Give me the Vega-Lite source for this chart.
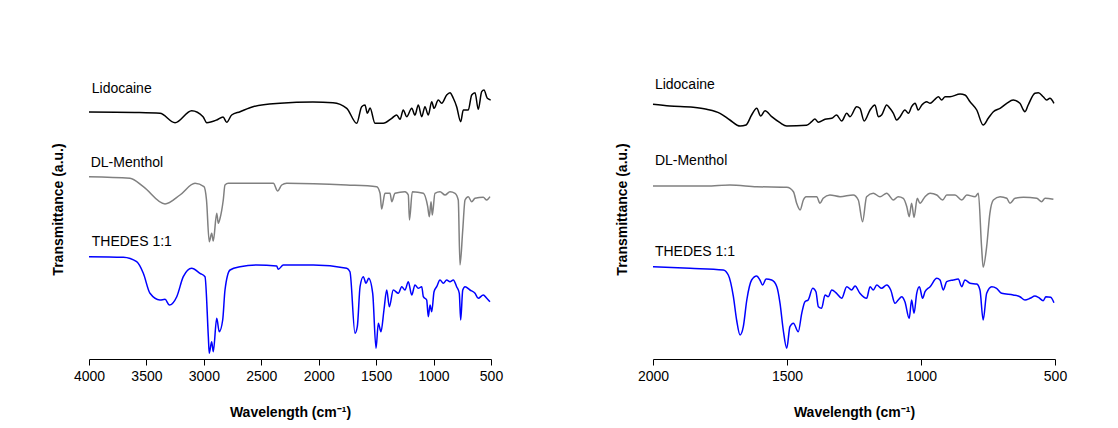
{
  "$schema": "https://vega.github.io/schema/vega-lite/v6.json",
  "background": "white",
  "padding": {"left": 51, "top": 59, "right": 5, "bottom": 5},
  "config": {
    "font": "Liberation Sans",
    "view": {"stroke": null},
    "concat": {"spacing": 112},
    "axis": {"grid": false, "labelFontSize": 14, "titleFontSize": 14, "titleFontWeight": "bold", "labelColor": "#000", "titleColor": "#000", "domainColor": "#000", "tickColor": "#000", "labelFlush": false}
  },
  "resolve": {"scale": {"x": "independent", "y": "independent"}},
  "datasets": {
    "spectra": [
      {"p":"L","s":"Lidocaine","w":4000,"t":247},{"p":"L","s":"Lidocaine","w":3600,"t":246.5},{"p":"L","s":"Lidocaine","w":3382,"t":245.7},{"p":"L","s":"Lidocaine","w":3251,"t":236.3},{"p":"L","s":"Lidocaine","w":3106,"t":248.3},{"p":"L","s":"Lidocaine","w":3007,"t":242.3},{"p":"L","s":"Lidocaine","w":2975,"t":236.3},{"p":"L","s":"Lidocaine","w":2888,"t":239},{"p":"L","s":"Lidocaine","w":2833,"t":242},{"p":"L","s":"Lidocaine","w":2801,"t":236.7},{"p":"L","s":"Lidocaine","w":2758,"t":244},{"p":"L","s":"Lidocaine","w":2685,"t":247.3},{"p":"L","s":"Lidocaine","w":2572,"t":252.3},{"p":"L","s":"Lidocaine","w":2337,"t":255.7},{"p":"L","s":"Lidocaine","w":2050,"t":257},{"p":"L","s":"Lidocaine","w":1876,"t":256.3},{"p":"L","s":"Lidocaine","w":1756,"t":250.7},{"p":"L","s":"Lidocaine","w":1669,"t":235.7},{"p":"L","s":"Lidocaine","w":1626,"t":252.3},{"p":"L","s":"Lidocaine","w":1597,"t":254},{"p":"L","s":"Lidocaine","w":1577,"t":245.7},{"p":"L","s":"Lidocaine","w":1553,"t":251},{"p":"L","s":"Lidocaine","w":1510,"t":235.7},{"p":"L","s":"Lidocaine","w":1438,"t":235.7},{"p":"L","s":"Lidocaine","w":1364,"t":240.7},{"p":"L","s":"Lidocaine","w":1321,"t":244},{"p":"L","s":"Lidocaine","w":1292,"t":239.7},{"p":"L","s":"Lidocaine","w":1264,"t":249},{"p":"L","s":"Lidocaine","w":1234,"t":242.3},{"p":"L","s":"Lidocaine","w":1190,"t":250.7},{"p":"L","s":"Lidocaine","w":1162,"t":244},{"p":"L","s":"Lidocaine","w":1133,"t":254},{"p":"L","s":"Lidocaine","w":1103,"t":242.3},{"p":"L","s":"Lidocaine","w":1075,"t":252.3},{"p":"L","s":"Lidocaine","w":1046,"t":244},{"p":"L","s":"Lidocaine","w":1016,"t":257.3},{"p":"L","s":"Lidocaine","w":996,"t":250.7},{"p":"L","s":"Lidocaine","w":959,"t":259},{"p":"L","s":"Lidocaine","w":929,"t":255.7},{"p":"L","s":"Lidocaine","w":886,"t":264},{"p":"L","s":"Lidocaine","w":857,"t":266.3},{"p":"L","s":"Lidocaine","w":828,"t":260.7},{"p":"L","s":"Lidocaine","w":799,"t":252.3},{"p":"L","s":"Lidocaine","w":764,"t":237.3},{"p":"L","s":"Lidocaine","w":741,"t":249},{"p":"L","s":"Lidocaine","w":698,"t":249},{"p":"L","s":"Lidocaine","w":668,"t":264},{"p":"L","s":"Lidocaine","w":639,"t":266.3},{"p":"L","s":"Lidocaine","w":611,"t":249.7},{"p":"L","s":"Lidocaine","w":581,"t":267.3},{"p":"L","s":"Lidocaine","w":561,"t":269},{"p":"L","s":"Lidocaine","w":532,"t":260.7},{"p":"L","s":"Lidocaine","w":503,"t":259},
      {"p":"L","s":"DL-Menthol","w":4000,"t":182.3},{"p":"L","s":"DL-Menthol","w":3643,"t":180.7},{"p":"L","s":"DL-Menthol","w":3527,"t":172.3},{"p":"L","s":"DL-Menthol","w":3338,"t":155},{"p":"L","s":"DL-Menthol","w":3208,"t":164},{"p":"L","s":"DL-Menthol","w":3077,"t":175.7},{"p":"L","s":"DL-Menthol","w":2999,"t":172.3},{"p":"L","s":"DL-Menthol","w":2977,"t":159},{"p":"L","s":"DL-Menthol","w":2953,"t":117.3},{"p":"L","s":"DL-Menthol","w":2932,"t":125.7},{"p":"L","s":"DL-Menthol","w":2918,"t":118},{"p":"L","s":"DL-Menthol","w":2888,"t":145.7},{"p":"L","s":"DL-Menthol","w":2874,"t":135.7},{"p":"L","s":"DL-Menthol","w":2859,"t":140.7},{"p":"L","s":"DL-Menthol","w":2831,"t":159},{"p":"L","s":"DL-Menthol","w":2816,"t":174},{"p":"L","s":"DL-Menthol","w":2787,"t":175.7},{"p":"L","s":"DL-Menthol","w":2395,"t":175.7},{"p":"L","s":"DL-Menthol","w":2357,"t":168},{"p":"L","s":"DL-Menthol","w":2322,"t":174},{"p":"L","s":"DL-Menthol","w":2279,"t":175.7},{"p":"L","s":"DL-Menthol","w":1756,"t":174},{"p":"L","s":"DL-Menthol","w":1495,"t":172.3},{"p":"L","s":"DL-Menthol","w":1466,"t":165.7},{"p":"L","s":"DL-Menthol","w":1452,"t":150},{"p":"L","s":"DL-Menthol","w":1423,"t":165.7},{"p":"L","s":"DL-Menthol","w":1379,"t":165.7},{"p":"L","s":"DL-Menthol","w":1364,"t":157.3},{"p":"L","s":"DL-Menthol","w":1336,"t":165.7},{"p":"L","s":"DL-Menthol","w":1249,"t":167.3},{"p":"L","s":"DL-Menthol","w":1220,"t":164},{"p":"L","s":"DL-Menthol","w":1210,"t":139},{"p":"L","s":"DL-Menthol","w":1185,"t":167.3},{"p":"L","s":"DL-Menthol","w":1089,"t":165.7},{"p":"L","s":"DL-Menthol","w":1051,"t":152.3},{"p":"L","s":"DL-Menthol","w":1037,"t":142.3},{"p":"L","s":"DL-Menthol","w":1022,"t":157.3},{"p":"L","s":"DL-Menthol","w":1011,"t":144},{"p":"L","s":"DL-Menthol","w":988,"t":165.7},{"p":"L","s":"DL-Menthol","w":944,"t":167.3},{"p":"L","s":"DL-Menthol","w":900,"t":164},{"p":"L","s":"DL-Menthol","w":857,"t":167.3},{"p":"L","s":"DL-Menthol","w":813,"t":165.7},{"p":"L","s":"DL-Menthol","w":785,"t":159},{"p":"L","s":"DL-Menthol","w":770,"t":94},{"p":"L","s":"DL-Menthol","w":746,"t":129},{"p":"L","s":"DL-Menthol","w":726,"t":159},{"p":"L","s":"DL-Menthol","w":698,"t":162.3},{"p":"L","s":"DL-Menthol","w":668,"t":157.3},{"p":"L","s":"DL-Menthol","w":639,"t":160.7},{"p":"L","s":"DL-Menthol","w":567,"t":161.7},{"p":"L","s":"DL-Menthol","w":537,"t":159},{"p":"L","s":"DL-Menthol","w":509,"t":162.3},
      {"p":"L","s":"THEDES 1:1","w":4000,"t":102.3},{"p":"L","s":"THEDES 1:1","w":3701,"t":101.7},{"p":"L","s":"THEDES 1:1","w":3585,"t":97.3},{"p":"L","s":"THEDES 1:1","w":3527,"t":85.7},{"p":"L","s":"THEDES 1:1","w":3469,"t":65.7},{"p":"L","s":"THEDES 1:1","w":3382,"t":59},{"p":"L","s":"THEDES 1:1","w":3338,"t":59.7},{"p":"L","s":"THEDES 1:1","w":3301,"t":54},{"p":"L","s":"THEDES 1:1","w":3236,"t":62.3},{"p":"L","s":"THEDES 1:1","w":3179,"t":82.3},{"p":"L","s":"THEDES 1:1","w":3106,"t":90.7},{"p":"L","s":"THEDES 1:1","w":3034,"t":85.7},{"p":"L","s":"THEDES 1:1","w":2990,"t":82.3},{"p":"L","s":"THEDES 1:1","w":2961,"t":22.3},{"p":"L","s":"THEDES 1:1","w":2953,"t":5.7},{"p":"L","s":"THEDES 1:1","w":2932,"t":17.3},{"p":"L","s":"THEDES 1:1","w":2918,"t":7.3},{"p":"L","s":"THEDES 1:1","w":2888,"t":40.7},{"p":"L","s":"THEDES 1:1","w":2866,"t":27.3},{"p":"L","s":"THEDES 1:1","w":2836,"t":39},{"p":"L","s":"THEDES 1:1","w":2816,"t":69},{"p":"L","s":"THEDES 1:1","w":2772,"t":89},{"p":"L","s":"THEDES 1:1","w":2685,"t":92.3},{"p":"L","s":"THEDES 1:1","w":2540,"t":94},{"p":"L","s":"THEDES 1:1","w":2366,"t":93},{"p":"L","s":"THEDES 1:1","w":2352,"t":89.7},{"p":"L","s":"THEDES 1:1","w":2308,"t":94},{"p":"L","s":"THEDES 1:1","w":2047,"t":94},{"p":"L","s":"THEDES 1:1","w":1756,"t":90.7},{"p":"L","s":"THEDES 1:1","w":1728,"t":87.3},{"p":"L","s":"THEDES 1:1","w":1684,"t":25.7},{"p":"L","s":"THEDES 1:1","w":1664,"t":32.3},{"p":"L","s":"THEDES 1:1","w":1640,"t":72.3},{"p":"L","s":"THEDES 1:1","w":1612,"t":82.3},{"p":"L","s":"THEDES 1:1","w":1588,"t":75.7},{"p":"L","s":"THEDES 1:1","w":1565,"t":80.7},{"p":"L","s":"THEDES 1:1","w":1530,"t":65.7},{"p":"L","s":"THEDES 1:1","w":1501,"t":10.7},{"p":"L","s":"THEDES 1:1","w":1481,"t":35.7},{"p":"L","s":"THEDES 1:1","w":1458,"t":27.3},{"p":"L","s":"THEDES 1:1","w":1432,"t":49},{"p":"L","s":"THEDES 1:1","w":1408,"t":69},{"p":"L","s":"THEDES 1:1","w":1385,"t":52.3},{"p":"L","s":"THEDES 1:1","w":1351,"t":69},{"p":"L","s":"THEDES 1:1","w":1307,"t":65.7},{"p":"L","s":"THEDES 1:1","w":1277,"t":72.3},{"p":"L","s":"THEDES 1:1","w":1249,"t":69},{"p":"L","s":"THEDES 1:1","w":1220,"t":77.3},{"p":"L","s":"THEDES 1:1","w":1190,"t":64},{"p":"L","s":"THEDES 1:1","w":1162,"t":74},{"p":"L","s":"THEDES 1:1","w":1133,"t":70.7},{"p":"L","s":"THEDES 1:1","w":1103,"t":72.3},{"p":"L","s":"THEDES 1:1","w":1089,"t":62.3},{"p":"L","s":"THEDES 1:1","w":1060,"t":59},{"p":"L","s":"THEDES 1:1","w":1046,"t":42.3},{"p":"L","s":"THEDES 1:1","w":1031,"t":54},{"p":"L","s":"THEDES 1:1","w":1016,"t":47.3},{"p":"L","s":"THEDES 1:1","w":996,"t":67.3},{"p":"L","s":"THEDES 1:1","w":973,"t":72.3},{"p":"L","s":"THEDES 1:1","w":944,"t":79},{"p":"L","s":"THEDES 1:1","w":915,"t":75.7},{"p":"L","s":"THEDES 1:1","w":886,"t":79},{"p":"L","s":"THEDES 1:1","w":857,"t":77.3},{"p":"L","s":"THEDES 1:1","w":828,"t":79},{"p":"L","s":"THEDES 1:1","w":799,"t":72.3},{"p":"L","s":"THEDES 1:1","w":776,"t":65.7},{"p":"L","s":"THEDES 1:1","w":764,"t":39},{"p":"L","s":"THEDES 1:1","w":746,"t":69},{"p":"L","s":"THEDES 1:1","w":726,"t":72.3},{"p":"L","s":"THEDES 1:1","w":683,"t":69},{"p":"L","s":"THEDES 1:1","w":639,"t":65.7},{"p":"L","s":"THEDES 1:1","w":611,"t":60.7},{"p":"L","s":"THEDES 1:1","w":567,"t":64},{"p":"L","s":"THEDES 1:1","w":537,"t":60.7},{"p":"L","s":"THEDES 1:1","w":509,"t":57.3},
      {"p":"R","s":"Lidocaine","w":2000,"t":254.7},{"p":"R","s":"Lidocaine","w":1937,"t":253},{"p":"R","s":"Lidocaine","w":1850,"t":251.7},{"p":"R","s":"Lidocaine","w":1800,"t":249.7},{"p":"R","s":"Lidocaine","w":1750,"t":245.7},{"p":"R","s":"Lidocaine","w":1713,"t":239},{"p":"R","s":"Lidocaine","w":1675,"t":233},{"p":"R","s":"Lidocaine","w":1653,"t":234},{"p":"R","s":"Lidocaine","w":1632,"t":244},{"p":"R","s":"Lidocaine","w":1613,"t":250.7},{"p":"R","s":"Lidocaine","w":1598,"t":243},{"p":"R","s":"Lidocaine","w":1582,"t":248.3},{"p":"R","s":"Lidocaine","w":1557,"t":242.3},{"p":"R","s":"Lidocaine","w":1526,"t":236.3},{"p":"R","s":"Lidocaine","w":1501,"t":233},{"p":"R","s":"Lidocaine","w":1427,"t":233.7},{"p":"R","s":"Lidocaine","w":1408,"t":237.3},{"p":"R","s":"Lidocaine","w":1396,"t":240},{"p":"R","s":"Lidocaine","w":1383,"t":236.7},{"p":"R","s":"Lidocaine","w":1358,"t":239.7},{"p":"R","s":"Lidocaine","w":1333,"t":240.7},{"p":"R","s":"Lidocaine","w":1315,"t":244},{"p":"R","s":"Lidocaine","w":1296,"t":238},{"p":"R","s":"Lidocaine","w":1277,"t":245.7},{"p":"R","s":"Lidocaine","w":1265,"t":242.3},{"p":"R","s":"Lidocaine","w":1240,"t":252.3},{"p":"R","s":"Lidocaine","w":1228,"t":250.7},{"p":"R","s":"Lidocaine","w":1212,"t":238},{"p":"R","s":"Lidocaine","w":1190,"t":249},{"p":"R","s":"Lidocaine","w":1172,"t":254},{"p":"R","s":"Lidocaine","w":1159,"t":242.3},{"p":"R","s":"Lidocaine","w":1147,"t":244},{"p":"R","s":"Lidocaine","w":1128,"t":254},{"p":"R","s":"Lidocaine","w":1116,"t":250.7},{"p":"R","s":"Lidocaine","w":1103,"t":245.7},{"p":"R","s":"Lidocaine","w":1091,"t":239},{"p":"R","s":"Lidocaine","w":1078,"t":242.3},{"p":"R","s":"Lidocaine","w":1060,"t":249},{"p":"R","s":"Lidocaine","w":1047,"t":245.7},{"p":"R","s":"Lidocaine","w":1035,"t":252.3},{"p":"R","s":"Lidocaine","w":1022,"t":255.7},{"p":"R","s":"Lidocaine","w":1010,"t":249},{"p":"R","s":"Lidocaine","w":997,"t":254},{"p":"R","s":"Lidocaine","w":979,"t":257.3},{"p":"R","s":"Lidocaine","w":966,"t":255.7},{"p":"R","s":"Lidocaine","w":948,"t":259.7},{"p":"R","s":"Lidocaine","w":935,"t":262.3},{"p":"R","s":"Lidocaine","w":923,"t":259},{"p":"R","s":"Lidocaine","w":910,"t":262.3},{"p":"R","s":"Lidocaine","w":892,"t":262.3},{"p":"R","s":"Lidocaine","w":854,"t":265},{"p":"R","s":"Lidocaine","w":836,"t":264},{"p":"R","s":"Lidocaine","w":817,"t":257.3},{"p":"R","s":"Lidocaine","w":792,"t":249},{"p":"R","s":"Lidocaine","w":768,"t":234},{"p":"R","s":"Lidocaine","w":749,"t":240.7},{"p":"R","s":"Lidocaine","w":730,"t":247.3},{"p":"R","s":"Lidocaine","w":705,"t":250.7},{"p":"R","s":"Lidocaine","w":680,"t":255.7},{"p":"R","s":"Lidocaine","w":656,"t":259},{"p":"R","s":"Lidocaine","w":631,"t":255.7},{"p":"R","s":"Lidocaine","w":618,"t":249},{"p":"R","s":"Lidocaine","w":612,"t":247.3},{"p":"R","s":"Lidocaine","w":600,"t":254},{"p":"R","s":"Lidocaine","w":575,"t":265.7},{"p":"R","s":"Lidocaine","w":562,"t":266.3},{"p":"R","s":"Lidocaine","w":544,"t":262.3},{"p":"R","s":"Lidocaine","w":531,"t":259},{"p":"R","s":"Lidocaine","w":519,"t":260.7},{"p":"R","s":"Lidocaine","w":504,"t":255.7},
      {"p":"R","s":"DL-Menthol","w":2000,"t":173},{"p":"R","s":"DL-Menthol","w":1800,"t":173},{"p":"R","s":"DL-Menthol","w":1713,"t":174},{"p":"R","s":"DL-Menthol","w":1613,"t":172.3},{"p":"R","s":"DL-Menthol","w":1501,"t":171.7},{"p":"R","s":"DL-Menthol","w":1476,"t":167.3},{"p":"R","s":"DL-Menthol","w":1464,"t":155.7},{"p":"R","s":"DL-Menthol","w":1451,"t":149},{"p":"R","s":"DL-Menthol","w":1439,"t":159},{"p":"R","s":"DL-Menthol","w":1429,"t":162.3},{"p":"R","s":"DL-Menthol","w":1389,"t":162.3},{"p":"R","s":"DL-Menthol","w":1377,"t":155.7},{"p":"R","s":"DL-Menthol","w":1365,"t":160.7},{"p":"R","s":"DL-Menthol","w":1340,"t":164},{"p":"R","s":"DL-Menthol","w":1302,"t":162.3},{"p":"R","s":"DL-Menthol","w":1253,"t":164},{"p":"R","s":"DL-Menthol","w":1234,"t":159},{"p":"R","s":"DL-Menthol","w":1218,"t":137.3},{"p":"R","s":"DL-Menthol","w":1203,"t":162.3},{"p":"R","s":"DL-Menthol","w":1178,"t":165.7},{"p":"R","s":"DL-Menthol","w":1153,"t":162.3},{"p":"R","s":"DL-Menthol","w":1128,"t":165.7},{"p":"R","s":"DL-Menthol","w":1103,"t":159},{"p":"R","s":"DL-Menthol","w":1085,"t":162.3},{"p":"R","s":"DL-Menthol","w":1066,"t":160.7},{"p":"R","s":"DL-Menthol","w":1053,"t":152.3},{"p":"R","s":"DL-Menthol","w":1044,"t":142.3},{"p":"R","s":"DL-Menthol","w":1035,"t":155.7},{"p":"R","s":"DL-Menthol","w":1026,"t":141.7},{"p":"R","s":"DL-Menthol","w":1014,"t":160.7},{"p":"R","s":"DL-Menthol","w":1004,"t":155.7},{"p":"R","s":"DL-Menthol","w":985,"t":162.3},{"p":"R","s":"DL-Menthol","w":966,"t":165.7},{"p":"R","s":"DL-Menthol","w":941,"t":164},{"p":"R","s":"DL-Menthol","w":919,"t":159},{"p":"R","s":"DL-Menthol","w":904,"t":164},{"p":"R","s":"DL-Menthol","w":873,"t":164},{"p":"R","s":"DL-Menthol","w":848,"t":159},{"p":"R","s":"DL-Menthol","w":829,"t":164},{"p":"R","s":"DL-Menthol","w":798,"t":162.3},{"p":"R","s":"DL-Menthol","w":786,"t":165.7},{"p":"R","s":"DL-Menthol","w":774,"t":112.3},{"p":"R","s":"DL-Menthol","w":768,"t":91.7},{"p":"R","s":"DL-Menthol","w":755,"t":112.3},{"p":"R","s":"DL-Menthol","w":743,"t":145.7},{"p":"R","s":"DL-Menthol","w":730,"t":159},{"p":"R","s":"DL-Menthol","w":705,"t":162.3},{"p":"R","s":"DL-Menthol","w":680,"t":160.7},{"p":"R","s":"DL-Menthol","w":668,"t":155.7},{"p":"R","s":"DL-Menthol","w":649,"t":160.7},{"p":"R","s":"DL-Menthol","w":618,"t":161.7},{"p":"R","s":"DL-Menthol","w":568,"t":160.7},{"p":"R","s":"DL-Menthol","w":550,"t":157.3},{"p":"R","s":"DL-Menthol","w":537,"t":160.7},{"p":"R","s":"DL-Menthol","w":506,"t":159.7},
      {"p":"R","s":"THEDES 1:1","w":2000,"t":92.3},{"p":"R","s":"THEDES 1:1","w":1862,"t":90.7},{"p":"R","s":"THEDES 1:1","w":1738,"t":89},{"p":"R","s":"THEDES 1:1","w":1719,"t":84},{"p":"R","s":"THEDES 1:1","w":1700,"t":62.3},{"p":"R","s":"THEDES 1:1","w":1688,"t":39},{"p":"R","s":"THEDES 1:1","w":1675,"t":24},{"p":"R","s":"THEDES 1:1","w":1663,"t":32.3},{"p":"R","s":"THEDES 1:1","w":1650,"t":59},{"p":"R","s":"THEDES 1:1","w":1632,"t":79},{"p":"R","s":"THEDES 1:1","w":1613,"t":83},{"p":"R","s":"THEDES 1:1","w":1601,"t":79},{"p":"R","s":"THEDES 1:1","w":1591,"t":74},{"p":"R","s":"THEDES 1:1","w":1578,"t":80},{"p":"R","s":"THEDES 1:1","w":1557,"t":79},{"p":"R","s":"THEDES 1:1","w":1538,"t":72.3},{"p":"R","s":"THEDES 1:1","w":1526,"t":55.7},{"p":"R","s":"THEDES 1:1","w":1514,"t":29},{"p":"R","s":"THEDES 1:1","w":1501,"t":10.7},{"p":"R","s":"THEDES 1:1","w":1489,"t":32.3},{"p":"R","s":"THEDES 1:1","w":1476,"t":35.7},{"p":"R","s":"THEDES 1:1","w":1458,"t":27.3},{"p":"R","s":"THEDES 1:1","w":1445,"t":45.7},{"p":"R","s":"THEDES 1:1","w":1433,"t":57.3},{"p":"R","s":"THEDES 1:1","w":1421,"t":59},{"p":"R","s":"THEDES 1:1","w":1404,"t":70.7},{"p":"R","s":"THEDES 1:1","w":1392,"t":67.3},{"p":"R","s":"THEDES 1:1","w":1383,"t":52.3},{"p":"R","s":"THEDES 1:1","w":1371,"t":50.7},{"p":"R","s":"THEDES 1:1","w":1358,"t":64},{"p":"R","s":"THEDES 1:1","w":1346,"t":62.3},{"p":"R","s":"THEDES 1:1","w":1333,"t":69},{"p":"R","s":"THEDES 1:1","w":1315,"t":65.7},{"p":"R","s":"THEDES 1:1","w":1296,"t":60.7},{"p":"R","s":"THEDES 1:1","w":1277,"t":72.3},{"p":"R","s":"THEDES 1:1","w":1259,"t":69},{"p":"R","s":"THEDES 1:1","w":1246,"t":73},{"p":"R","s":"THEDES 1:1","w":1228,"t":65.7},{"p":"R","s":"THEDES 1:1","w":1203,"t":60.7},{"p":"R","s":"THEDES 1:1","w":1190,"t":72.3},{"p":"R","s":"THEDES 1:1","w":1178,"t":69},{"p":"R","s":"THEDES 1:1","w":1165,"t":74},{"p":"R","s":"THEDES 1:1","w":1147,"t":70.7},{"p":"R","s":"THEDES 1:1","w":1128,"t":74},{"p":"R","s":"THEDES 1:1","w":1113,"t":69},{"p":"R","s":"THEDES 1:1","w":1097,"t":55.7},{"p":"R","s":"THEDES 1:1","w":1085,"t":59},{"p":"R","s":"THEDES 1:1","w":1072,"t":62.3},{"p":"R","s":"THEDES 1:1","w":1060,"t":57.3},{"p":"R","s":"THEDES 1:1","w":1044,"t":40.7},{"p":"R","s":"THEDES 1:1","w":1035,"t":59},{"p":"R","s":"THEDES 1:1","w":1026,"t":45.7},{"p":"R","s":"THEDES 1:1","w":1016,"t":65.7},{"p":"R","s":"THEDES 1:1","w":1006,"t":72.3},{"p":"R","s":"THEDES 1:1","w":994,"t":60.7},{"p":"R","s":"THEDES 1:1","w":985,"t":67.3},{"p":"R","s":"THEDES 1:1","w":966,"t":72.3},{"p":"R","s":"THEDES 1:1","w":941,"t":80.7},{"p":"R","s":"THEDES 1:1","w":929,"t":79},{"p":"R","s":"THEDES 1:1","w":917,"t":69},{"p":"R","s":"THEDES 1:1","w":904,"t":77.3},{"p":"R","s":"THEDES 1:1","w":880,"t":79},{"p":"R","s":"THEDES 1:1","w":861,"t":80},{"p":"R","s":"THEDES 1:1","w":848,"t":72.3},{"p":"R","s":"THEDES 1:1","w":836,"t":79},{"p":"R","s":"THEDES 1:1","w":817,"t":75.7},{"p":"R","s":"THEDES 1:1","w":792,"t":75},{"p":"R","s":"THEDES 1:1","w":780,"t":69},{"p":"R","s":"THEDES 1:1","w":768,"t":39},{"p":"R","s":"THEDES 1:1","w":755,"t":65.7},{"p":"R","s":"THEDES 1:1","w":736,"t":72.3},{"p":"R","s":"THEDES 1:1","w":718,"t":70.7},{"p":"R","s":"THEDES 1:1","w":699,"t":65.7},{"p":"R","s":"THEDES 1:1","w":656,"t":64},{"p":"R","s":"THEDES 1:1","w":631,"t":62.3},{"p":"R","s":"THEDES 1:1","w":612,"t":59},{"p":"R","s":"THEDES 1:1","w":593,"t":60.7},{"p":"R","s":"THEDES 1:1","w":575,"t":63},{"p":"R","s":"THEDES 1:1","w":562,"t":61.7},{"p":"R","s":"THEDES 1:1","w":544,"t":58.3},{"p":"R","s":"THEDES 1:1","w":534,"t":62.3},{"p":"R","s":"THEDES 1:1","w":516,"t":61.7},{"p":"R","s":"THEDES 1:1","w":504,"t":56.3}
    ],
    "labels": [
      {"p":"L","label":"Lidocaine","w":3976,"t":270.5},
      {"p":"L","label":"DL-Menthol","w":3985,"t":196},
      {"p":"L","label":"THEDES 1:1","w":3976,"t":117.3},
      {"p":"R","label":"Lidocaine","w":1993,"t":274},
      {"p":"R","label":"DL-Menthol","w":1993,"t":197.7},
      {"p":"R","label":"THEDES 1:1","w":1993,"t":107}
    ]
  },
  "hconcat": [
    {
      "width": 402,
      "height": 300,
      "layer": [
        {
          "data": {"name": "spectra"},
          "transform": [{"filter": "datum.p === 'L'"}],
          "mark": {"type": "line", "strokeWidth": 1.5, "interpolate": "monotone"},
          "encoding": {
            "x": {"field": "w", "type": "quantitative", "scale": {"domain": [500, 4000], "reverse": true, "nice": false},
              "axis": {"values": [4000, 3500, 3000, 2500, 2000, 1500, 1000, 500], "format": "d", "title": "Wavelength (cm⁻¹)", "tickSize": 6, "labelPadding": 4, "titlePadding": 22}},
            "y": {"field": "t", "type": "quantitative", "scale": {"domain": [0, 300], "nice": false},
              "axis": {"title": "Transmittance (a.u.)", "labels": false, "ticks": false, "domain": false, "titlePadding": 24}},
            "color": {"field": "s", "type": "nominal", "scale": {"domain": ["Lidocaine", "DL-Menthol", "THEDES 1:1"], "range": ["#000000", "#808080", "#0000ff"]}, "legend": null}
          }
        },
        {
          "data": {"name": "labels"},
          "transform": [{"filter": "datum.p === 'L'"}],
          "mark": {"type": "text", "align": "left", "baseline": "middle", "fontSize": 14, "color": "#000"},
          "encoding": {
            "x": {"field": "w", "type": "quantitative"},
            "y": {"field": "t", "type": "quantitative"},
            "text": {"field": "label"}
          }
        }
      ]
    },
    {
      "width": 402,
      "height": 300,
      "layer": [
        {
          "data": {"name": "spectra"},
          "transform": [{"filter": "datum.p === 'R'"}],
          "mark": {"type": "line", "strokeWidth": 1.5, "interpolate": "monotone"},
          "encoding": {
            "x": {"field": "w", "type": "quantitative", "scale": {"domain": [500, 2000], "reverse": true, "nice": false},
              "axis": {"values": [2000, 1500, 1000, 500], "format": "d", "title": "Wavelength (cm⁻¹)", "tickSize": 6, "labelPadding": 4, "titlePadding": 22}},
            "y": {"field": "t", "type": "quantitative", "scale": {"domain": [0, 300], "nice": false},
              "axis": {"title": "Transmittance (a.u.)", "labels": false, "ticks": false, "domain": false, "titlePadding": 24}},
            "color": {"field": "s", "type": "nominal", "scale": {"domain": ["Lidocaine", "DL-Menthol", "THEDES 1:1"], "range": ["#000000", "#808080", "#0000ff"]}, "legend": null}
          }
        },
        {
          "data": {"name": "labels"},
          "transform": [{"filter": "datum.p === 'R'"}],
          "mark": {"type": "text", "align": "left", "baseline": "middle", "fontSize": 14, "color": "#000"},
          "encoding": {
            "x": {"field": "w", "type": "quantitative"},
            "y": {"field": "t", "type": "quantitative"},
            "text": {"field": "label"}
          }
        }
      ]
    }
  ]
}
